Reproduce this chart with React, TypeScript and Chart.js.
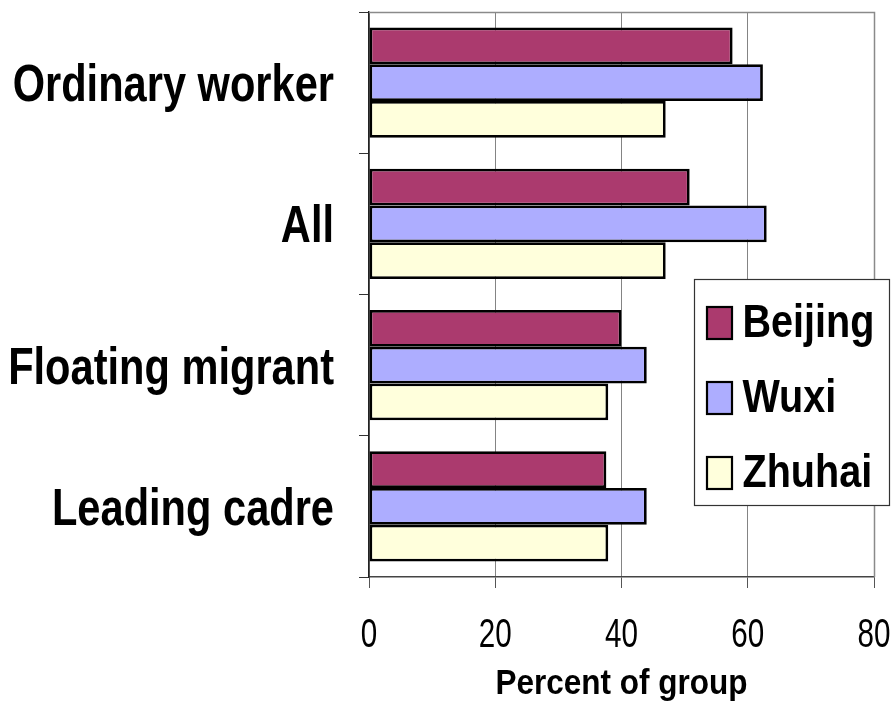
import React, { useEffect, useRef } from "react";
import { Chart, registerables } from "chart.js";

Chart.register(...registerables);

const categories = ["Ordinary worker", "All", "Floating migrant", "Leading cadre"];
const seriesNames = ["Beijing", "Wuxi", "Zhuhai"];
const beijingValues = [57.6, 50.8, 40.0, 37.6];
const wuxiValues = [62.4, 63.0, 44.0, 44.0];
const zhuhaiValues = [47.0, 47.0, 37.9, 37.9];
const seriesColors = ["#AB3A6E", "#ADADFF", "#FFFFDC"];
const xTickValues = [0, 20, 40, 60, 80];
const xAxisTitle = "Percent of group";

const FONT = '"Liberation Sans", Arial, sans-serif';

function drawText(
  ctx: CanvasRenderingContext2D,
  text: string,
  x: number,
  baseline: number,
  font: string,
  sx: number,
  align: CanvasTextAlign
) {
  ctx.save();
  ctx.font = font;
  ctx.textBaseline = "alphabetic";
  ctx.textAlign = align;
  ctx.fillStyle = "#000";
  ctx.translate(x, baseline);
  ctx.scale(sx, 1);
  ctx.fillText(text, 0, 0);
  ctx.restore();
}

const framePlugin = {
  id: "frame",
  beforeDatasetsDraw(chart: any) {
    const { ctx, chartArea } = chart;
    ctx.save();
    ctx.strokeStyle = "#8a8a8a";
    ctx.lineWidth = 1.5;
    ctx.beginPath();
    ctx.moveTo(chartArea.left, chartArea.top + 0.5);
    ctx.lineTo(chartArea.right + 0.5, chartArea.top + 0.5);
    ctx.lineTo(chartArea.right + 0.5, chartArea.bottom);
    ctx.stroke();
    ctx.restore();
  },
};

const labelsPlugin = {
  id: "narrowLabels",
  afterDraw(chart: any) {
    const { ctx, chartArea } = chart;
    const yScale = chart.scales.y;
    const xScale = chart.scales.x;
    // category labels
    const catSize = 52;
    (chart.data.labels as string[]).forEach((lab, i) => {
      const cy = yScale.getPixelForValue(i);
      drawText(ctx, lab, chartArea.left - 35, cy + 0.358 * catSize, `bold ${catSize}px ${FONT}`, 0.8, "right");
    });
    // x tick labels
    const tickSize = 40;
    xTickValues.forEach((v) => {
      const px = xScale.getPixelForValue(v);
      drawText(ctx, String(v), px, chartArea.bottom + 70.3, `${tickSize}px ${FONT}`, 0.74, "center");
    });
    // axis title
    const titleSize = 35;
    drawText(
      ctx,
      xAxisTitle,
      (chartArea.left + chartArea.right) / 2,
      chartArea.bottom + 117,
      `bold ${titleSize}px ${FONT}`,
      0.9,
      "center"
    );
  },
};

const legendPlugin = {
  id: "boxLegend",
  afterDraw(chart: any) {
    const { ctx, chartArea } = chart;
    const x0 = chartArea.left + 325.5;
    const y0 = chartArea.top + 267.5;
    const w = 195;
    const h = 226;
    ctx.save();
    ctx.fillStyle = "#ffffff";
    ctx.fillRect(x0, y0, w, h);
    ctx.strokeStyle = "#333333";
    ctx.lineWidth = 1.2;
    ctx.strokeRect(x0, y0, w, h);
    ctx.restore();
    const size = 46;
    chart.data.datasets.forEach((ds: any, i: number) => {
      const cy = y0 + 43.5 + i * 75;
      ctx.save();
      ctx.fillStyle = ds.backgroundColor;
      ctx.fillRect(x0 + 12.5, cy - 16, 25, 32);
      ctx.strokeStyle = "#000";
      ctx.lineWidth = 2.2;
      ctx.strokeRect(x0 + 12.5, cy - 16, 25, 32);
      ctx.restore();
      drawText(ctx, ds.label, x0 + 48, cy - 2 + 0.358 * size, `bold ${size}px ${FONT}`, 0.86, "left");
    });
  },
};

export default function App() {
  const ref = useRef<HTMLCanvasElement | null>(null);

  useEffect(() => {
    if (!ref.current) return;
    const allSeries = [beijingValues, wuxiValues, zhuhaiValues];
    const chart = new Chart(ref.current, {
      type: "bar",
      data: {
        labels: categories,
        datasets: seriesNames.map((name, i) => ({
          label: name,
          data: allSeries[i],
          backgroundColor: seriesColors[i],
          borderColor: "#000000",
          borderWidth: 2.8,
          borderSkipped: false,
          categoryPercentage: 0.78,
          barPercentage: 1.0,
        })),
      },
      options: {
        indexAxis: "y",
        responsive: false,
        animation: false,
        layout: { padding: { left: 0, right: 20, top: 12, bottom: 0 } },
        plugins: {
          legend: { display: false },
          tooltip: { enabled: false },
        },
        scales: {
          x: {
            type: "linear",
            min: 0,
            max: 80,
            afterBuildTicks: (scale: any) => {
              scale.ticks = xTickValues.map((v) => ({ value: v }));
            },
            afterFit: (scale: any) => {
              scale.height = 126;
              scale.paddingLeft = 0;
              scale.paddingRight = 0;
              scale.paddingTop = 0;
              scale.paddingBottom = 0;
            },
            grid: {
              color: "#848484",
              lineWidth: 1,
              tickLength: 11,
              tickColor: "#555555",
            },
            border: { color: "#444444", width: 1.5 },
            ticks: { display: false },
            title: { display: false },
          },
          y: {
            type: "category",
            afterFit: (scale: any) => {
              scale.width = 369;
              scale.paddingLeft = 0;
              scale.paddingRight = 0;
              scale.paddingTop = 0;
              scale.paddingBottom = 0;
            },
            grid: {
              display: true,
              drawOnChartArea: false,
              tickLength: 10,
              color: "#333333",
              offset: true,
            },
            border: { color: "#222222", width: 1.5 },
            ticks: { display: false },
          },
        },
      },
      plugins: [framePlugin, labelsPlugin, legendPlugin],
    } as any);
    return () => chart.destroy();
  }, []);

  return (
    <div style={{ position: "fixed", left: 0, top: 0, width: 894, height: 703, background: "#fff" }}>
      <canvas ref={ref} width={894} height={703} style={{ display: "block" }} />
    </div>
  );
}
